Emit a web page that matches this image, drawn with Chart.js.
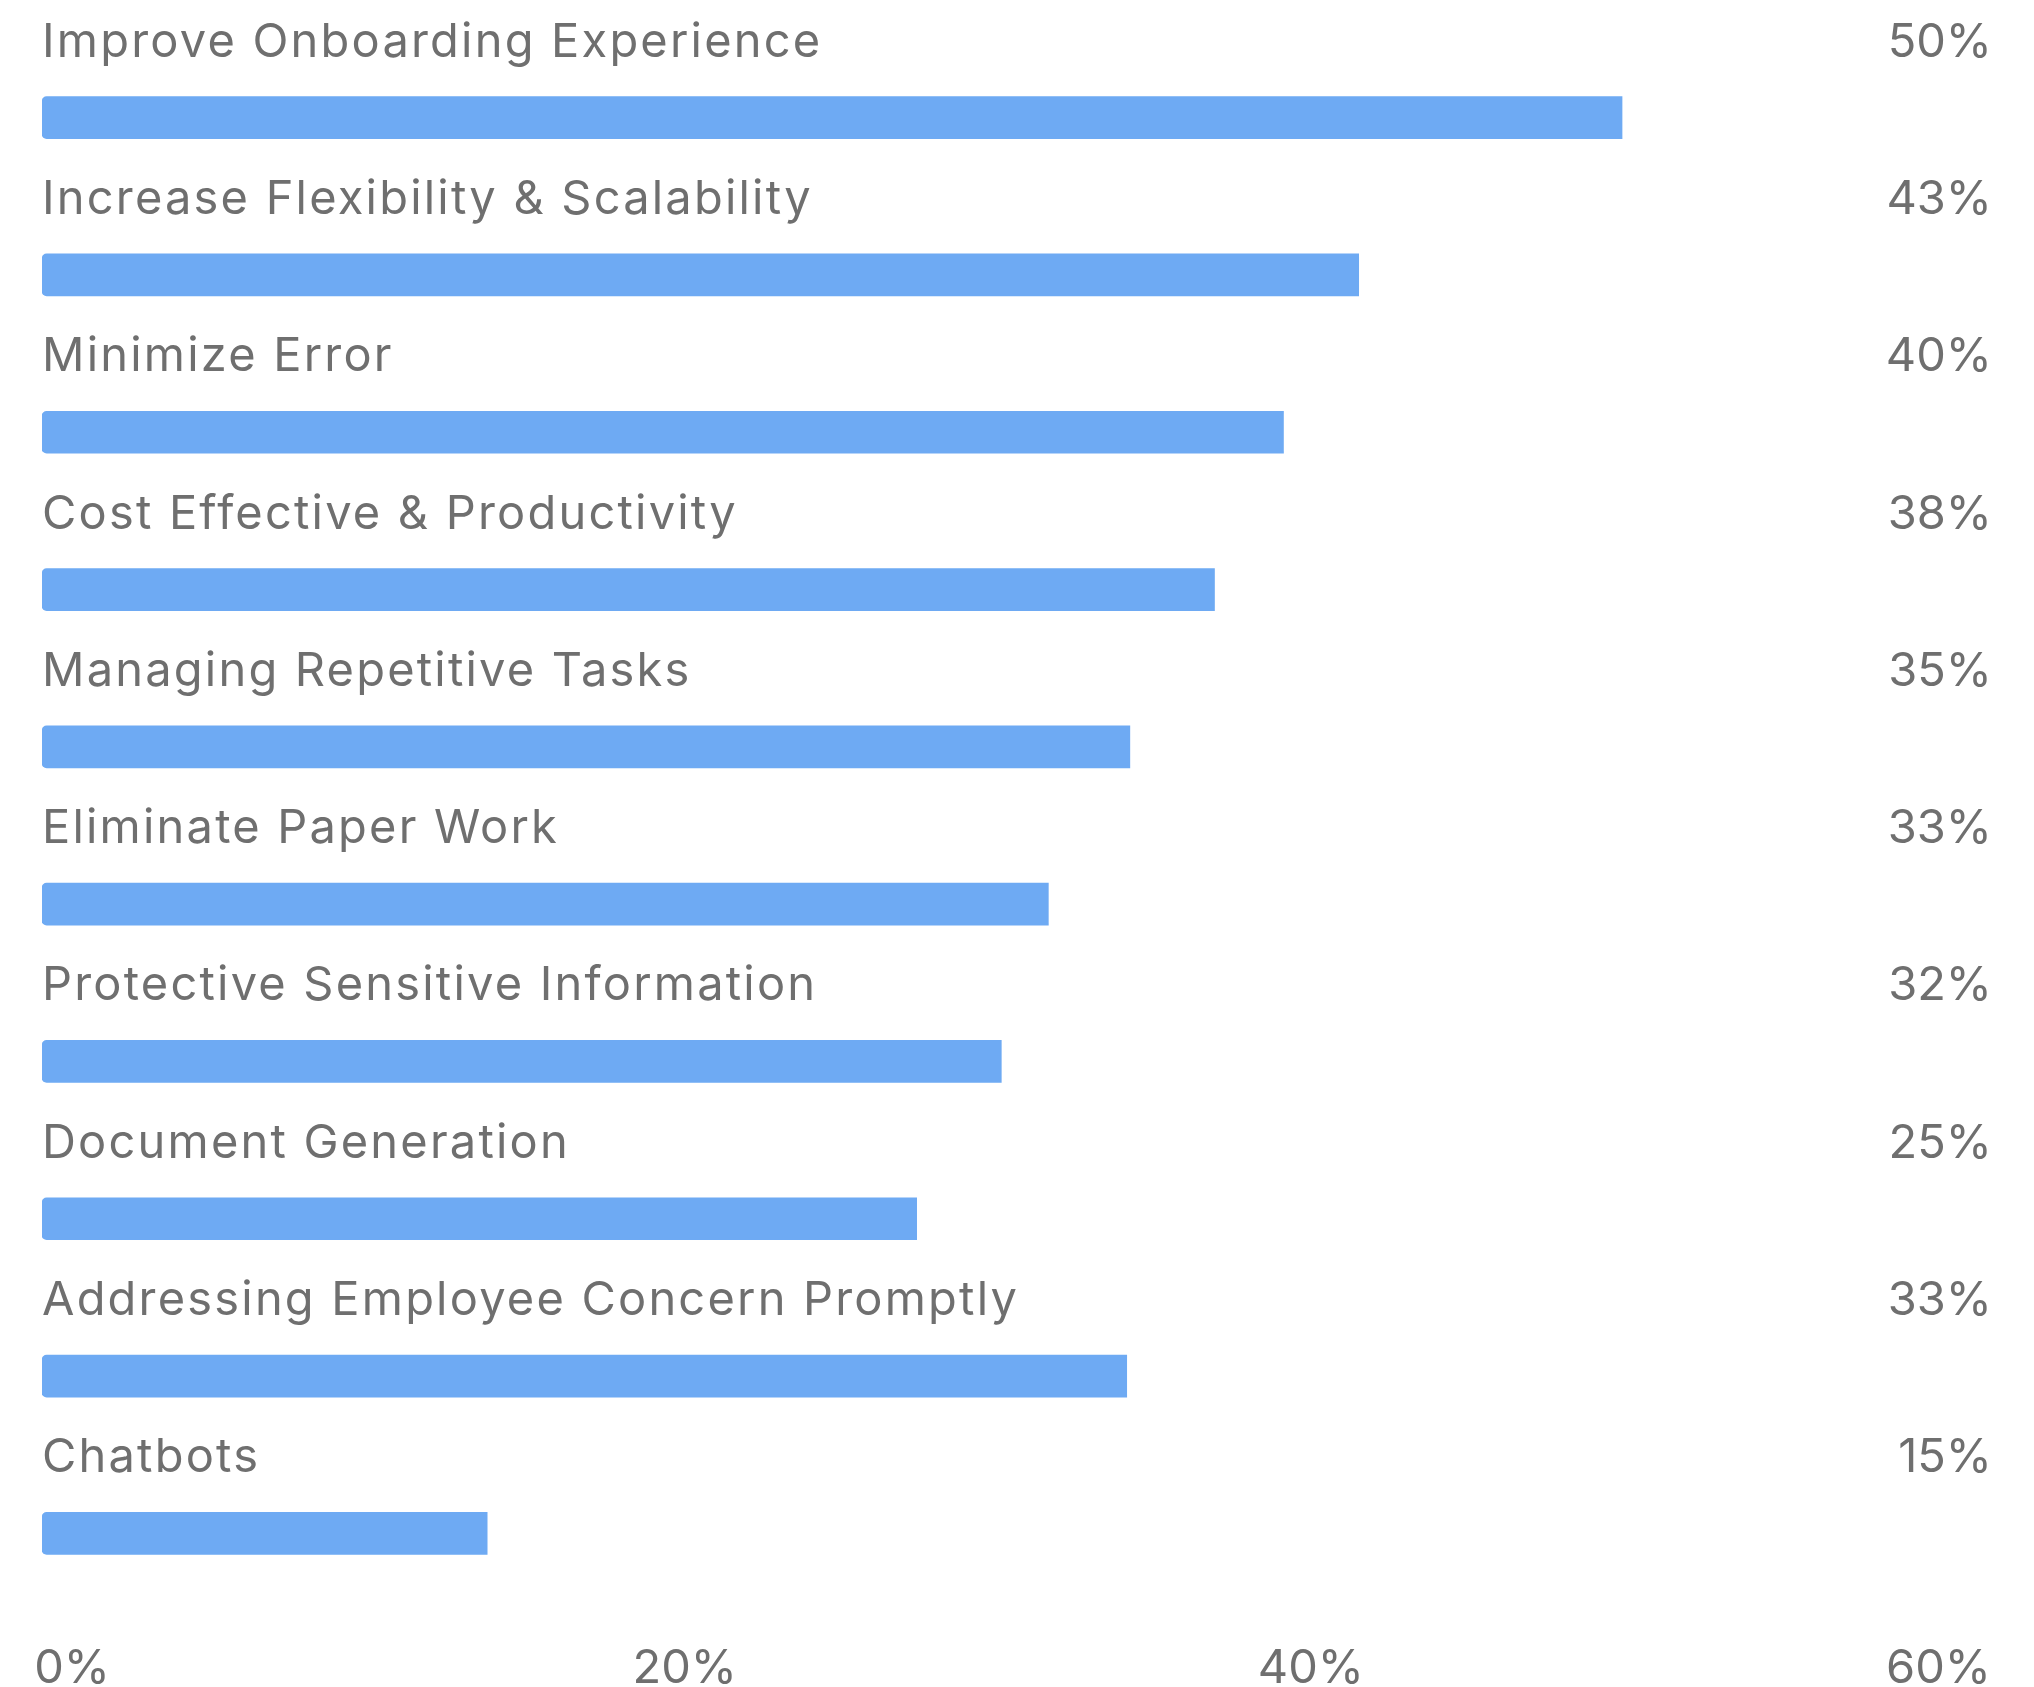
<!DOCTYPE html>
<html>
<head>
<meta charset="utf-8">
<title>Benefits</title>
<script src="https://cdn.jsdelivr.net/npm/chart.js@4.4.1/dist/chart.umd.min.js"></script>
<style>
    html, body { margin: 0; padding: 0; background: #ffffff; }
    #wrap { width: 2034px; height: 1687px; }
</style>
</head>
<body>
<div id="wrap"><canvas id="benefitChart" width="2034" height="1687"></canvas></div>
<script>
// data
const categories = [
    'Improve Onboarding Experience',
    'Increase Flexibility & Scalability',
    'Minimize Error',
    'Cost Effective & Productivity',
    'Managing Repetitive Tasks',
    'Eliminate Paper Work',
    'Protective Sensitive Information',
    'Document Generation',
    'Addressing Employee Concern Promptly',
    'Chatbots'
];
const barValues = [50.4, 42.0, 39.6, 37.4, 34.7, 32.1, 30.6, 27.9, 34.6, 14.2];
const valueLabels = ['50%', '43%', '40%', '38%', '35%', '33%', '32%', '25%', '33%', '15%'];
const tickStep = 20;
const axisMax = 60;

const TEXT_COLOR = '#6f6f6f';
const BAR_COLOR = '#6eaaf3';
const FONT = '400 47px Inter, "Noto Sans", sans-serif';

// draws row titles above bars, percentages on the right, and x tick labels
const rowLabels = {
    id: 'rowLabels',
    afterDatasetsDraw(chart) {
        const { ctx, chartArea } = chart;
        const meta = chart.getDatasetMeta(0);
        ctx.save();
        ctx.font = FONT;
        ctx.fillStyle = TEXT_COLOR;
        ctx.textBaseline = 'alphabetic';
        meta.data.forEach((bar, i) => {
            const y = bar.y - 61;
            ctx.letterSpacing = '2.2px'; // the original face runs wider
            ctx.textAlign = 'left';
            ctx.fillText(categories[i], chartArea.left, y);
            ctx.letterSpacing = '0px';
            ctx.textAlign = 'right';
            ctx.fillText(valueLabels[i], chartArea.right + 69, y);
        });

        const xScale = chart.scales.x;
        ctx.textAlign = 'right';
        xScale.ticks.forEach(t => {
            const px = xScale.getPixelForValue(t.value);
            ctx.fillText(t.value + '%', px + 68, chartArea.bottom + 71);
        });
        ctx.restore();
    }
};

const ctx = document.getElementById('benefitChart');
new Chart(ctx, {
    type: 'bar',
    data: {
        labels: categories,
        datasets: [{
            data: barValues,
            backgroundColor: BAR_COLOR,
            barThickness: 42,
            borderSkipped: false,
            borderRadius: { topLeft: 5, bottomLeft: 5, topRight: 0, bottomRight: 0 }
        }]
    },
    options: {
        indexAxis: 'y',
        responsive: false,
        animation: false,
        layout: { padding: { left: 42, right: 111, top: 39, bottom: 75 } },
        plugins: {
            legend: { display: false },
            tooltip: { enabled: false }
        },
        scales: {
            x: {
                display: false,
                min: 0,
                max: axisMax,
                ticks: { stepSize: tickStep }
            },
            y: { display: false }
        }
    },
    plugins: [rowLabels]
});
</script>
</body>
</html>
